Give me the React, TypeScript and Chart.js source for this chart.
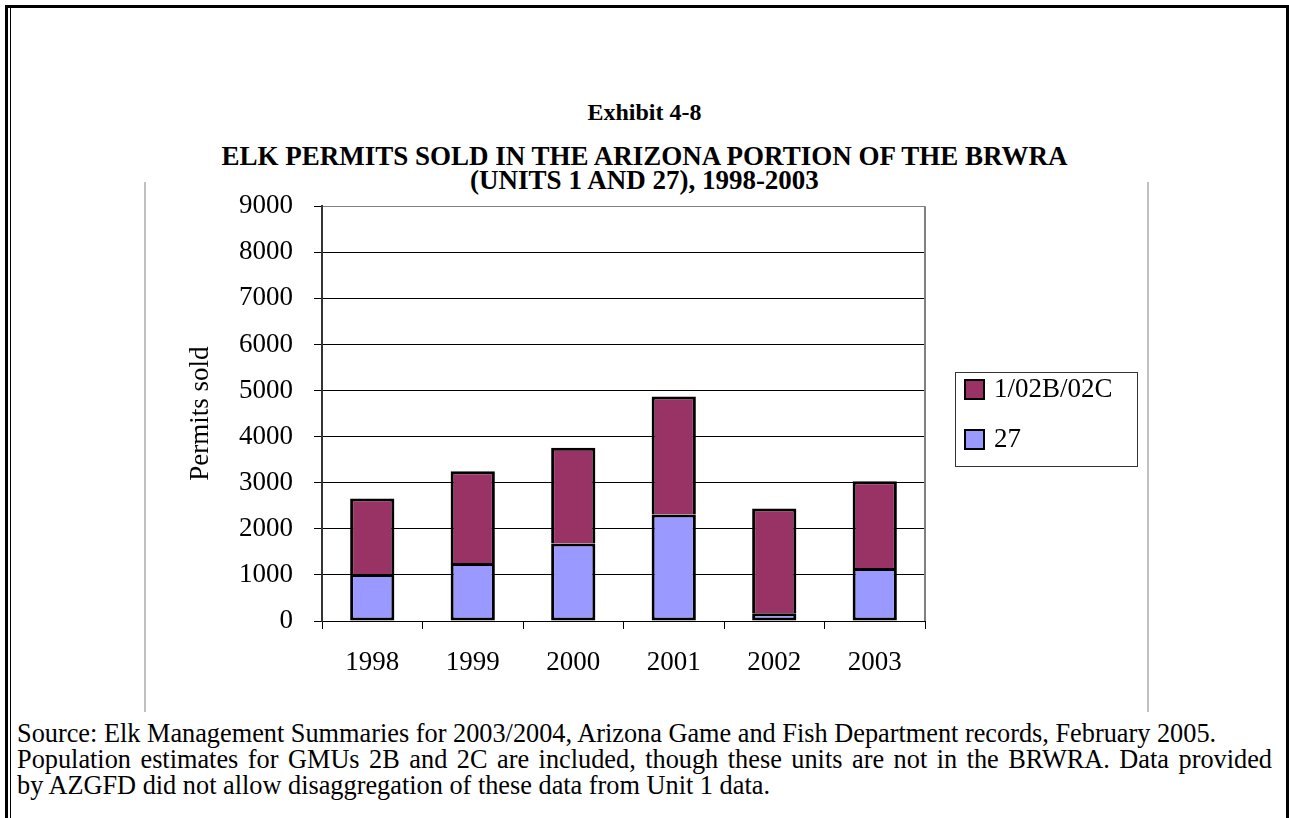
import React, { useEffect, useRef } from "react";
import { Chart, registerables } from "chart.js";

Chart.register(...registerables);

// ---- data ----
const years = ["1998", "1999", "2000", "2001", "2002", "2003"];
const unit27 = [1020, 1260, 1680, 2310, 170, 1150];
const unit1 = [1640, 1990, 2080, 2560, 2270, 1880];
const seriesNames = ["27", "1/02B/02C"];
const seriesColors = ["#9999FF", "#993366"];
const yMin = 0;
const yMax = 9000;
const yStep = 1000;
const yTitle = "Permits sold";

const exhibitLabel = "Exhibit 4-8";
const titleLines = [
  "ELK PERMITS SOLD IN THE ARIZONA PORTION OF THE BRWRA",
  "(UNITS 1 AND 27), 1998-2003",
];
const sourceLines = [
  "Source: Elk Management Summaries for 2003/2004, Arizona Game and Fish Department records, February 2005.",
  "Population estimates for GMUs 2B and 2C are included, though these units are not in the BRWRA. Data provided",
  "by AZGFD did not allow disaggregation of these data from Unit 1 data.",
];

const FONT = "'Liberation Serif', 'Times New Roman', Times, serif";
const CHART_FONT_SIZE = 27;

const CANVAS_LEFT = 146;
const CANVAS_TOP = 169;
const CANVAS_W = 1001;
const CANVAS_H = 542;

const plotFramePlugin = {
  id: "plotFrame",
  beforeDatasetsDraw(chart: any) {
    const { ctx, chartArea } = chart;
    ctx.save();
    ctx.strokeStyle = "#808080";
    ctx.lineWidth = 2;
    ctx.beginPath();
    ctx.moveTo(chartArea.right, chartArea.top);
    ctx.lineTo(chartArea.right, chartArea.bottom);
    ctx.stroke();
    ctx.restore();
  },
};

const boxLegendPlugin = {
  id: "boxLegend",
  afterDraw(chart: any) {
    const { ctx, chartArea } = chart;
    const boxLeft = chartArea.right + 30;
    const boxTop = 203;
    const boxW = 182;
    const boxH = 94;
    ctx.save();
    ctx.fillStyle = "#ffffff";
    ctx.fillRect(boxLeft, boxTop, boxW, boxH);
    ctx.strokeStyle = "#333333";
    ctx.lineWidth = 1;
    ctx.strokeRect(boxLeft + 0.5, boxTop + 0.5, boxW, boxH);
    const ds = chart.data.datasets.slice().reverse();
    ds.forEach((d: any, i: number) => {
      const sx = boxLeft + 10;
      const sy = boxTop + 8 + i * 50;
      const s = 19;
      ctx.fillStyle = d.backgroundColor;
      ctx.fillRect(sx, sy, s, s);
      ctx.strokeStyle = "#000";
      ctx.lineWidth = 2;
      ctx.strokeRect(sx, sy, s, s);
      ctx.fillStyle = "#000";
      ctx.font = `${CHART_FONT_SIZE}px ${FONT}`;
      ctx.textBaseline = "middle";
      ctx.textAlign = "left";
      ctx.fillText(d.label, sx + 29, sy + s / 2);
    });
    ctx.restore();
  },
};

function ChartCanvas() {
  const ref = useRef<HTMLCanvasElement | null>(null);
  useEffect(() => {
    if (!ref.current) return;
    const chart = new Chart(ref.current, {
      type: "bar",
      data: {
        labels: years,
        datasets: [
          {
            label: seriesNames[0],
            data: unit27,
            backgroundColor: seriesColors[0],
            borderColor: "#000",
            borderWidth: 3,
            borderSkipped: false,
            barPercentage: 0.44,
            categoryPercentage: 1,
          },
          {
            label: seriesNames[1],
            data: unit1,
            backgroundColor: seriesColors[1],
            borderColor: "#000",
            borderWidth: 3,
            borderSkipped: "bottom",
            barPercentage: 0.44,
            categoryPercentage: 1,
          },
        ],
      },
      options: {
        responsive: false,
        animation: false,
        devicePixelRatio: 1,
        layout: { padding: { left: 0, right: 222, top: 0, bottom: 0 } },
        plugins: {
          legend: { display: false },
          title: { display: false },
          tooltip: { enabled: false },
        },
        scales: {
          x: {
            stacked: true,
            afterFit: (scale: any) => {
              scale.height = 90;
            },
            grid: {
              offset: true,
              drawOnChartArea: false,
              drawTicks: true,
              tickLength: 8,
              color: "#000",
            },
            border: { display: true, color: "#000", width: 1 },
            ticks: {
              color: "#000",
              padding: 18,
              font: { family: FONT, size: CHART_FONT_SIZE },
            },
          },
          y: {
            stacked: true,
            min: yMin,
            max: yMax,
            afterFit: (scale: any) => {
              scale.width = 176;
            },
            grid: {
              color: (c: any) => (c.tick && c.tick.value === yMax ? "#808080" : "#000"),
              lineWidth: 1,
              drawTicks: true,
              tickLength: 8,
              tickColor: "#000",
            },
            border: { display: true, color: "#333", width: 2 },
            ticks: {
              stepSize: yStep,
              color: "#000",
              padding: 21,
              font: { family: FONT, size: CHART_FONT_SIZE },
              callback: (v: any) => String(v),
            },
            title: {
              display: true,
              text: yTitle,
              color: "#000",
              font: { family: FONT, size: CHART_FONT_SIZE },
              padding: { top: 39, bottom: 0 },
            },
          },
        },
      },
      plugins: [plotFramePlugin, boxLegendPlugin],
    });
    return () => chart.destroy();
  }, []);
  return <canvas ref={ref} width={CANVAS_W} height={CANVAS_H} style={{ display: "block" }} />;
}

function abs(left: number, top: number, width: number, height: number, bg: string): React.CSSProperties {
  return { position: "absolute", left, top, width, height, background: bg };
}

export default function App() {
  const exhibitFont = 24;
  const titleFont = 27;
  const srcFont = 26.3;
  const base = (b: number, f: number) => b - 0.8375 * f;
  return (
    <div
      style={{
        position: "fixed",
        left: 0,
        top: 0,
        width: 1289,
        height: 818,
        overflow: "hidden",
        background: "#fff",
        fontFamily: FONT,
        color: "#000",
      }}
    >
      {/* outer border */}
      <div style={abs(5, 5, 1284, 3, "#000")} />
      <div style={abs(5, 5, 3, 813, "#000")} />
      <div style={abs(10, 8, 1, 810, "#000")} />
      <div style={abs(1286, 5, 3, 813, "#000")} />

      {/* chart object frame */}
      <div style={abs(144, 182, 2, 530, "#c0c0c0")} />
      <div style={abs(1147, 182, 2, 530, "#c0c0c0")} />

      <div
        style={{
          position: "absolute",
          left: 0,
          top: base(120, exhibitFont),
          width: 1289,
          textAlign: "center",
          fontWeight: "bold",
          fontSize: exhibitFont,
          lineHeight: `${exhibitFont}px`,
          whiteSpace: "nowrap",
        }}
      >
        {exhibitLabel}
      </div>
      {titleLines.map((t, i) => (
        <div
          key={i}
          style={{
            position: "absolute",
            left: 0,
            top: base(166 + i * 24, titleFont),
            width: 1289,
            textAlign: "center",
            fontWeight: "bold",
            fontSize: titleFont,
            lineHeight: `${titleFont}px`,
            whiteSpace: "nowrap",
          }}
        >
          {t}
        </div>
      ))}

      <div style={{ position: "absolute", left: CANVAS_LEFT, top: CANVAS_TOP }}>
        <ChartCanvas />
      </div>

      {sourceLines.map((t, i) => (
        <div
          key={i}
          style={{
            position: "absolute",
            left: 17,
            top: base(743 + i * 26, srcFont),
            width: 1255,
            fontSize: srcFont,
            lineHeight: `${srcFont}px`,
            whiteSpace: "nowrap",
            textAlign: i === 1 ? "justify" : "left",
            textAlignLast: i === 1 ? "justify" : "left",
          }}
        >
          {t}
        </div>
      ))}
    </div>
  );
}
